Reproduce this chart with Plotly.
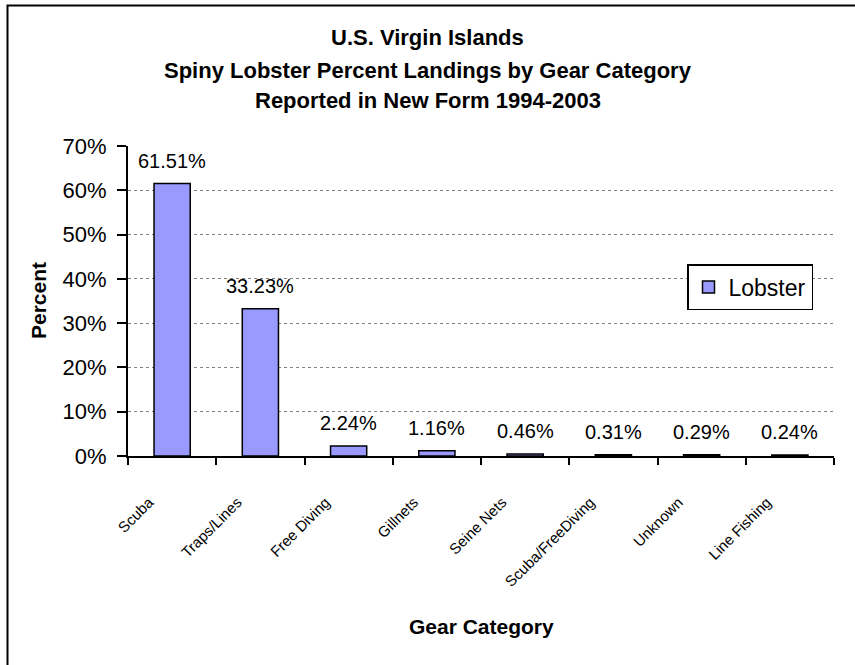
import plotly.graph_objects as go

categories = ["Scuba", "Traps/Lines", "Free Diving", "Gillnets", "Seine Nets",
              "Scuba/FreeDiving", "Unknown", "Line Fishing"]
lobster_pct = [61.51, 33.23, 2.24, 1.16, 0.46, 0.31, 0.29, 0.24]
y_ticks = [0, 10, 20, 30, 40, 50, 60, 70]
y_tick_labels = [f"{v}%" for v in y_ticks]
title_lines = ["U.S. Virgin Islands",
               "Spiny Lobster Percent Landings by Gear Category",
               "Reported in New Form 1994-2003"]
x_title = "Gear Category"
y_title = "Percent"

W, H = 855, 665
L, R, T, B = 128, 834, 146, 456   # plot area in pixels
FONT = "Liberation Sans, Arial, sans-serif"

def px_x(x):
    return (x - L) / (R - L)

def px_y(y):
    return (B - y) / (B - T)

fig = go.Figure()
fig.add_trace(go.Bar(
    x=categories, y=lobster_pct, name="Lobster",
    marker=dict(color="#9999FF", line=dict(color="black", width=1.5)),
))

annotations = []
for c, v in zip(categories, lobster_pct):
    annotations.append(dict(x=c, y=v, xref="x", yref="y", text=f"{v:.2f}%",
                            showarrow=False, yanchor="bottom", yshift=10,
                            font=dict(family=FONT, size=20, color="black")))
for i, line in enumerate(title_lines):
    annotations.append(dict(x=px_x(W / 2), y=px_y([37, 70, 101][i]),
                            xref="paper", yref="paper",
                            xanchor="center", yanchor="middle", showarrow=False,
                            text=f"<b>{line}</b>",
                            font=dict(family=FONT, size=22, color="black")))
annotations.append(dict(x=0.5, y=px_y(626), xref="paper", yref="paper",
                        xanchor="center", yanchor="middle", showarrow=False,
                        text=f"<b>{x_title}</b>",
                        font=dict(family=FONT, size=21, color="black")))
annotations.append(dict(x=px_x(38), y=px_y(301), xref="paper", yref="paper",
                        xanchor="center", yanchor="middle", showarrow=False,
                        textangle=-90, text=f"<b>{y_title}</b>",
                        font=dict(family=FONT, size=21, color="black")))

fig.update_layout(
    width=W, height=H,
    margin=dict(l=L, r=W - R, t=T, b=H - B),
    paper_bgcolor="white", plot_bgcolor="white",
    font=dict(family=FONT, color="black"),
    bargap=0.59,
    showlegend=True,
    legend=dict(x=px_x(687), y=px_y(264), xanchor="left", yanchor="top",
                bordercolor="black", borderwidth=1.5, bgcolor="white",
                font=dict(family=FONT, size=23, color="black"),
                tracegroupgap=0, itemwidth=30),
    annotations=annotations,
    shapes=[dict(type="rect", xref="paper", yref="paper",
                 x0=px_x(7.5), x1=px_x(900), y0=px_y(700), y1=px_y(5.5),
                 line=dict(color="black", width=2), layer="below")],
)
fig.update_xaxes(
    type="category", tickson="boundaries", ticks="outside", ticklen=7,
    tickcolor="black", tickwidth=1.5,
    showline=True, linecolor="black", linewidth=1.5,
    tickangle=-45, tickfont=dict(family=FONT, size=15, color="black"),
    ticklabelshift=-23, ticklabelstandoff=30,
    showgrid=False,
)
fig.update_yaxes(
    range=[0, 70], tickvals=y_ticks, ticktext=y_tick_labels,
    ticks="outside", ticklen=9, tickcolor="black", tickwidth=1.5,
    showline=True, linecolor="black", linewidth=2,
    tickfont=dict(family=FONT, size=22, color="black"),
    ticklabelstandoff=6,
    showgrid=True, gridcolor="#808080", griddash="dot", gridwidth=1,
    zeroline=False,
)
fig.write_html("out.html", config={"displayModeBar": False},
               post_script="document.body.style.margin='0';document.body.style.overflow='hidden';")
